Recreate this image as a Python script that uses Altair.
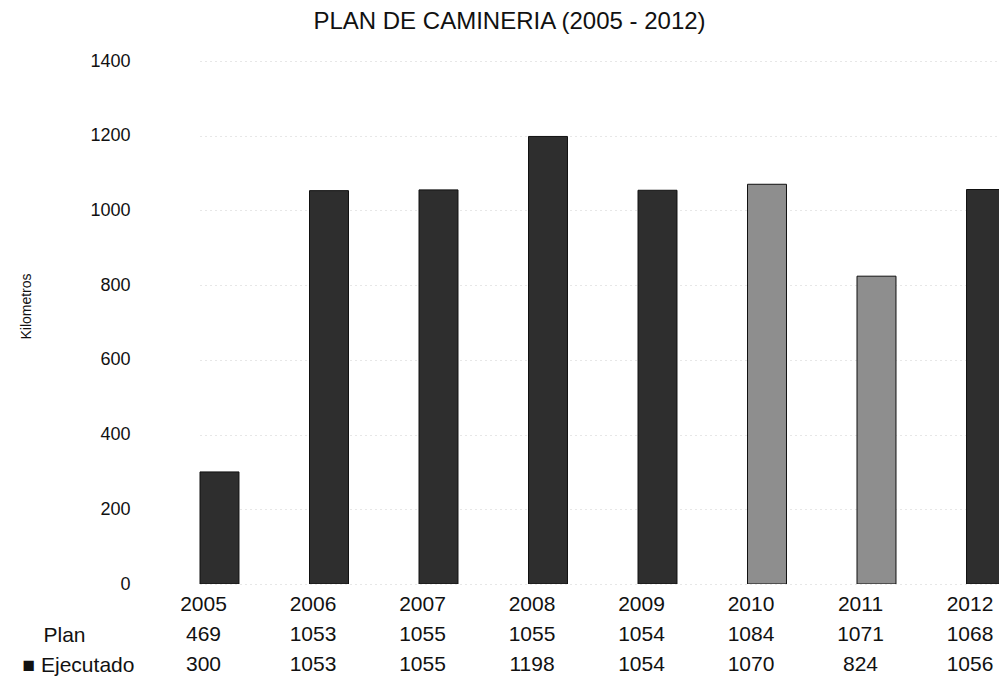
import altair as alt
import pandas as pd

years = ["2005", "2006", "2007", "2008", "2009", "2010", "2011", "2012"]
plan = [469, 1053, 1055, 1055, 1054, 1084, 1071, 1068]
ejecutado = [300, 1053, 1055, 1198, 1054, 1070, 824, 1056]
row_names = ["Año", "Plan", "Ejecutado"]
y_ticks = [0, 200, 400, 600, 800, 1000, 1200, 1400]

FONT = "Liberation Sans"

bars_df = pd.DataFrame({"year": years, "ejecutado": ejecutado})

rows = []
for i, y in enumerate(years):
    rows.append({"year": y, "row": row_names[0], "txt": y})
    rows.append({"year": y, "row": row_names[1], "txt": str(plan[i])})
    rows.append({"year": y, "row": row_names[2], "txt": str(ejecutado[i])})
table_df = pd.DataFrame(rows)

W = 859


def x_scale():
    return alt.Scale(type="band", domain=years, paddingInner=0.644, paddingOuter=0,
                     range=[60, 865.5])


bars = alt.Chart(bars_df).mark_bar(clip=True, stroke="#111", strokeWidth=1).encode(
    x=alt.X("year:N", scale=x_scale(), axis=None),
    y=alt.Y(
        "ejecutado:Q",
        scale=alt.Scale(domain=[0, 1400], nice=False),
        axis=alt.Axis(
            title="Kilometros",
            values=y_ticks,
            format="d",
            labelFontSize=18,
            labelFont=FONT,
            labelColor="#111",
            labelPadding=10,
            titleFont=FONT,
            titleFontSize=14,
            titleFontWeight="normal",
            titleColor="#111",
            titlePadding=56,
            titleY=245,
            domain=False,
            ticks=False,
            grid=True,
            gridColor="#bbbbbb",
            gridDash=[1, 4],
            gridOpacity=0.7,
        ),
    ),
    color=alt.condition(
        "indexof(['2010','2011'], datum.year) >= 0",
        alt.value("#8e8e8e"),
        alt.value("#2e2e2e"),
    ),
).properties(
    width=W,
    height=523,
    title=alt.TitleParams(
        "PLAN DE CAMINERIA (2005 - 2012)",
        fontSize=24,
        font=FONT,
        fontWeight="normal",
        color="#111",
        anchor="middle",
        dx=-60,
        offset=18,
    ),
)

label_expr = (
    "datum.value == 'Ejecutado' ? '\u25a0 Ejecutado' : "
    "(datum.value == 'Plan' ? '\u200b\u2003Plan' : '')"
)

table = alt.Chart(table_df).mark_text(
    fontSize=21, font=FONT, color="#111", dx=-16
).encode(
    x=alt.X("year:N", scale=x_scale(), axis=None),
    y=alt.Y(
        "row:N",
        sort=row_names,
        scale=alt.Scale(type="point", domain=row_names, padding=0.4),
        axis=alt.Axis(
            title=None,
            labelExpr=label_expr,
            labelAlign="left",
            labelPadding=118,
            labelFontSize=21,
            labelFont=FONT,
            labelColor="#111",
            domain=False,
            ticks=False,
            grid=False,
        ),
    ),
    text="txt:N",
).properties(width=W, height=84)

chart = alt.vconcat(bars, table, spacing=0).resolve_scale(x="independent").properties(
    padding={"left": 11, "top": 2, "right": 0, "bottom": 0}
).configure_view(stroke=None)

chart.save("out.html", embed_options={"renderer": "svg", "actions": False})
